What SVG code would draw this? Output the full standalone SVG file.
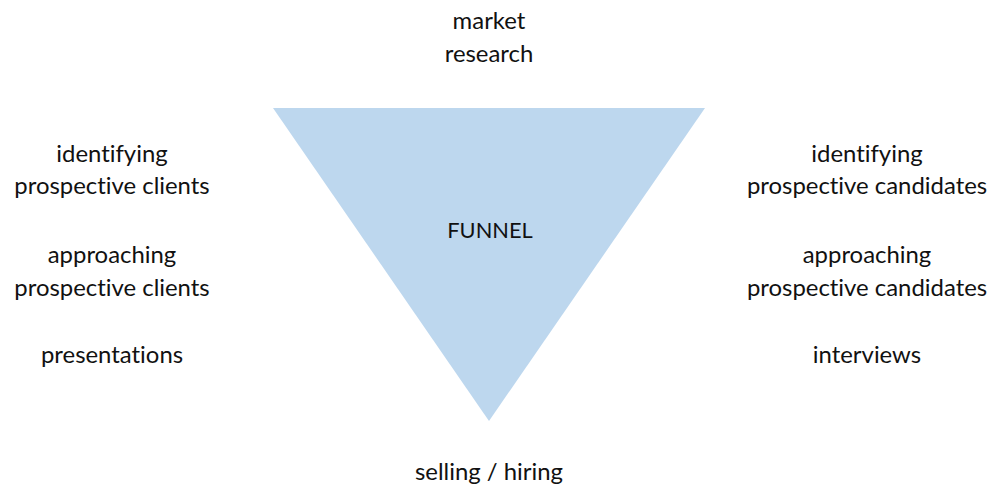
<svg xmlns="http://www.w3.org/2000/svg" width="993" height="491" viewBox="0 0 993 491">
<style>
text{font-family:Lato,"Open Sans","Liberation Sans",sans-serif;font-size:23.9px;fill:#111;text-anchor:middle;font-variant-ligatures:none}
.small{font-size:21.8px}
</style>
<rect width="993" height="491" fill="#fff"/>
<g id="funnel">
<polygon points="273,108 705,108 489,421" fill="#BDD7EE"/>
<text x="490" y="238" class="small">FUNNEL</text>
</g>
<g id="top">
<text x="489" y="29">market</text>
<text x="489" y="62">research</text>
</g>
<g id="left1">
<text x="112" y="162">identifying</text>
<text x="112" y="194">prospective clients</text>
</g>
<g id="left2">
<text x="112" y="263">approaching</text>
<text x="112" y="296">prospective clients</text>
</g>
<g id="left3">
<text x="112" y="363">presentations</text>
</g>
<g id="right1">
<text x="867" y="162">identifying</text>
<text x="867" y="194">prospective candidates</text>
</g>
<g id="right2">
<text x="867" y="263">approaching</text>
<text x="867" y="296">prospective candidates</text>
</g>
<g id="right3">
<text x="867" y="363">interviews</text>
</g>
<g id="bottom">
<text x="489" y="480">selling / hiring</text>
</g>
<g id="connectors"/>
</svg>
